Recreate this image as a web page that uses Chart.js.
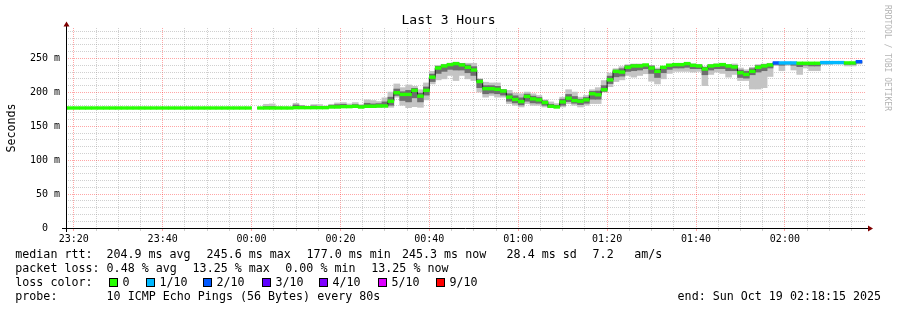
<!DOCTYPE html>
<html>
<head>
<meta charset="utf-8">
<script src="https://cdn.jsdelivr.net/npm/chart.js@4"></script>
<style>
  html, body { margin: 0; padding: 0; background: #fff; }
  canvas { display: block; }
</style>
</head>
<body>
<canvas id="chart" width="897" height="310"></canvas>
<script>
// time axis in minutes relative to 00:00, probe step is 80 s
var stepMin = 80 / 60;
var firstStep = -32;            // first step starts at 23:17:20
var viewStart = -41.75;         // 23:18:15
var viewEnd = 138.25;           // 02:18:15

// median rtt per step (ms), null = no data
var median = [
  177, 177, 177, 177, 177, 177, 177, 177,
  177, 177, 177, 177, 177, 177, 177, 177,
  177, 177, 177, 177, 177, 177, 177, 177,
  177, 177, 177, 177, 177, 177, 177, 177,
  null,
  177, 177, 177, 177, 177, 177,
  177.5, 177.5, 177.5, 177.5, 177.5, 177.5,
  178.5, 178.5, 179, 179, 179.5, 178.5, 179.5, 179.5, 180, 180,
  187, 199.5, 197, 197, 203, 194.5, 203, 222.5, 236, 239,
  241, 242.5, 240.5, 237, 233, 216, 205.5, 205.5, 204.5, 202,
  193, 189.5, 186.5, 194, 190.5, 189, 185, 179.5, 178.5, 186,
  191.5, 188, 187, 189, 198, 196.5, 204, 218.5, 231, 230,
  237, 239, 239, 240.5, 236, 231, 237, 240, 241, 241,
  242.5, 240, 239, 234.5, 239, 240,
  241, 239, 237.5, 229, 226.5, 231, 237, 239, 240.5, 243.5,
  243.5, 243.5, 243.5, 243, 243, 243, 243, 244, 244, 244,
  244, 243.5, 243.5, 245.3
];

// lost pings out of 10 per step
var loss = [
  0, 0, 0, 0, 0, 0, 0, 0, 0, 0, 0, 0, 0, 0, 0, 0,
  0, 0, 0, 0, 0, 0, 0, 0, 0, 0, 0, 0, 0, 0, 0, 0,
  null,
  0, 0, 0, 0, 0, 0, 0, 0, 0, 0, 0, 0, 0, 0, 0, 0, 0, 0, 0, 0,
  0, 0, 0, 0, 0, 0, 0, 0, 0, 0, 0, 0, 0, 0, 0, 0, 0, 0, 0, 0,
  0, 0, 0, 0, 0, 0, 0, 0, 0, 0, 0, 0, 0, 0, 0, 0, 0, 0, 0, 0,
  0, 0, 0, 0, 0, 0, 0, 0, 0, 0, 0, 0, 0, 0, 0, 0, 0, 0, 0, 0,
  0, 0, 0, 0, 0, 0, 0,
  2, 1, 1, 1, 0, 0, 0, 0, 1, 1, 1, 1, 0, 0, 2
];

// smoke: fastest / slowest ping per step (ms)
var smokeOuterLo = [
  null, null, null, null, null, null, null, null, null, null, null,
  null, null, null, null, null, null, null, null, null, null, null,
  null, null, null, null, null, null, null, null, null, null, null,
  176, 176, 176, 176, 176, 176,
  176.5, 176.5, 176.5, 176.5, 176.5, 176.5,
  177, 177, 177.5, 177.5, 177.5, 177, 177.5, 177.5, 178, 178,
  178, 193, 181, 177.5, 179, 178, 189, 212.5, 218.5, 220,
  225, 217.5, 225, 220, 217.5, 200.5, 193, 195.5, 193, 193,
  183.5, 181, 178.5, 183.5, 181, 181, 178.5, 177.5, 177.5, 178.5,
  183.5, 181, 178.5, 181, 183.5, 183.5, 200.5, 208.5, 216, 218.5,
  225, 222.5, 225, 227.5, 216.5, 212.5, 220, 228, 231, 231,
  231, 230, 231, 210, 226.5, 230,
  228, 222.5, 226.5, 217.5, 217.5, 205, 205, 207, 223.5, 239.5,
  232, 240, 233, 226.5, 236, 232, 232, 241, 241, 242,
  242, 239, 239, 242
];
var smokeOuterHi = [
  null, null, null, null, null, null, null, null, null, null, null,
  null, null, null, null, null, null, null, null, null, null, null,
  null, null, null, null, null, null, null, null, null, null, null,
  178, 182.5, 183, 179, 178.5, 178,
  184, 181, 179.5, 182, 182, 180,
  182.5, 184.5, 185, 183, 185, 182, 189, 188, 186.5, 192,
  200.5, 212.5, 207, 211, 209, 204, 214, 231, 240, 241.5,
  243, 244.5, 243, 243, 243, 220, 215, 214, 214, 204.5,
  203, 199, 198, 200.5, 198, 195.5, 189, 186, 183.5, 193,
  204, 200.5, 193, 195.5, 204, 207, 217.5, 228.5, 235, 238,
  241, 242, 242, 241.5, 240, 236, 238.5, 242, 242, 242,
  244, 242, 241, 238, 241, 242,
  243, 241, 242, 236, 233.5, 237, 241, 242, 243, 244.5,
  244.5, 244.5, 244.5, 244, 244, 244, 244, 245, 245, 245,
  245, 244.5, 244.5, 245.6
];
// smoke: inner pings (3rd / 8th) per step (ms)
var smokeInnerLo = [
  null, null, null, null, null, null, null, null, null, null, null,
  null, null, null, null, null, null, null, null, null, null, null,
  null, null, null, null, null, null, null, null, null, null, null,
  176.5, 176.5, 176.5, 176.5, 176.5, 176.5,
  177, 177, 177, 177, 177, 177,
  177.5, 177.5, 178, 178, 178, 177.5, 178, 178, 178.5, 179,
  181, 195.5, 188, 186, 192, 186, 196, 216, 228, 231,
  234, 233, 233, 229, 225, 207, 198, 199, 198, 196,
  187, 184.5, 181.5, 187, 184.5, 184, 181, 178, 178, 181,
  186.5, 184, 182, 184, 190, 190, 201.5, 213, 223, 224,
  231, 232, 233, 235, 228, 222, 229, 234, 236, 236,
  237, 235, 235, 226, 233, 235,
  235, 232, 232, 222, 221, 226, 230, 232, 236, 241.5,
  240, 242, 240, 238, 240, 239, 239, 242.5, 242.5, 243,
  243, 241.5, 241.5, 243.5
];
var smokeInnerHi = [
  null, null, null, null, null, null, null, null, null, null, null,
  null, null, null, null, null, null, null, null, null, null, null,
  null, null, null, null, null, null, null, null, null, null, null,
  177.5, 179, 179, 178, 178, 177.5,
  181.5, 180, 178.5, 180, 179.5, 179,
  181, 182, 182.5, 181, 182, 180.5, 184, 183, 183.5, 186,
  193, 205, 201, 203, 206, 199, 208, 227, 238.5, 240.5,
  242.5, 244, 242.5, 240.5, 238, 219, 210, 210, 209, 204,
  198, 195, 192, 197.5, 194.5, 192.5, 187.5, 182.5, 181, 190,
  197, 194, 190, 192.5, 201.5, 202, 210, 224, 233, 235,
  239.5, 241, 241, 241, 239, 234, 238, 241.5, 241.5, 241.5,
  243.5, 241.5, 240.5, 237, 240.5, 241.5,
  242.5, 240.5, 240, 233, 231, 235, 239.5, 241, 242, 244,
  244, 244, 244, 243.5, 243.5, 243.5, 243.5, 244.5, 244.5, 244.5,
  244.5, 244, 244, 245.5
];

// grid / tick positions
var xGridMinutes = [-40, -35, -30, -25, -20, -15, -10, -5, 0, 5, 10, 15, 20, 25, 30, 35, 40, 45,
  50, 55, 60, 65, 70, 75, 80, 85, 90, 95, 100, 105, 110, 115, 120, 125, 130, 135];
var yGridMs = [0, 10, 20, 30, 40, 50, 60, 70, 80, 90, 100, 110, 120, 130, 140, 150,
  160, 170, 180, 190, 200, 210, 220, 230, 240, 250, 260, 270, 280, 290];

var lossLabels = ['0', '1/10', '2/10', '3/10', '4/10', '5/10', '9/10'];
var lossColors = ['#26ff00', '#00b8ff', '#0059ff', '#5e00ff', '#7e00ff', '#dd00ff', '#ff0000'];

var statRows = [
  [[15.3, 'median rtt:'], [106.4, '204.9 ms avg'], [206.6, '245.6 ms max'], [306.6, '177.0 ms min'],
   [402, '245.3 ms now'], [506.6, '28.4 ms sd'], [592.6, '7.2'], [634.3, 'am/s']],
  [[15.3, 'packet loss:'], [106.6, '0.48 % avg'], [192.6, '13.25 % max'], [285.3, '0.00 % min'],
   [371.3, '13.25 % now']],
  [[15.3, 'loss color:']],
  [[15.3, 'probe:'], [106.6, '10 ICMP Echo Pings (56 Bytes) every 80s'],
   [677.6, 'end: Sun Oct 19 02:18:15 2025']]
];
var swatchX = [109, 146, 203, 262, 319, 378, 436];

var MAJOR = 'rgba(255,0,0,0.35)';
var MINOR = 'rgba(150,150,150,0.45)';
var SW = 2.0; // half height of the loss colour bar, ms

function stepMid(i) { return (firstStep + i + 0.5) * stepMin; }
function hhmm(m) {
  var t = ((m % 1440) + 1440) % 1440;
  var h = Math.floor(t / 60), mm = t % 60;
  return (h < 10 ? '0' : '') + h + ':' + (mm < 10 ? '0' : '') + mm;
}
function band(lo, hi) {
  var out = [];
  for (var i = 0; i < lo.length; i++) {
    if (lo[i] != null) out.push({ x: stepMid(i), y: [lo[i], hi[i]] });
  }
  return out;
}

var medianPts = median.map(function (v, i) { return { x: stepMid(i), y: v }; });
var lossPts = [];
for (var i = 0; i < median.length; i++) {
  if (median[i] != null) lossPts.push({ x: stepMid(i), y: [median[i] - SW, median[i] + SW], loss: loss[i] });
}

var rrdDecor = {
  id: 'rrdDecor',
  afterDraw: function (chart) {
    var c = chart.ctx, a = chart.chartArea;
    c.save();
    // axes
    c.strokeStyle = '#000';
    c.lineWidth = 1;
    c.beginPath();
    c.moveTo(a.left - 4, a.bottom + 0.5); c.lineTo(a.right + 3, a.bottom + 0.5);
    c.moveTo(a.left + 0.5, a.bottom + 4); c.lineTo(a.left + 0.5, a.top - 3);
    c.stroke();
    c.fillStyle = '#7f0000';
    c.beginPath();
    c.moveTo(a.right + 7, a.bottom + 0.5); c.lineTo(a.right + 2, a.bottom - 2.5); c.lineTo(a.right + 2, a.bottom + 3.5);
    c.closePath(); c.fill();
    c.beginPath();
    c.moveTo(a.left + 0.5, a.top - 6.5); c.lineTo(a.left - 2.5, a.top - 1.5); c.lineTo(a.left + 3.5, a.top - 1.5);
    c.closePath(); c.fill();

    // title
    c.fillStyle = '#000';
    c.font = '13px "DejaVu Sans Mono"';
    c.textAlign = 'center';
    c.textBaseline = 'alphabetic';
    c.fillText('Last 3 Hours', 448.5, 24);

    // vertical label
    c.font = '11.67px "DejaVu Sans Mono"';
    c.save();
    c.translate(15, (a.top + a.bottom) / 2);
    c.rotate(-Math.PI / 2);
    c.fillText('Seconds', 0, 0);
    c.restore();

    // watermark
    c.save();
    c.fillStyle = '#b4b4b4';
    c.font = '8px "DejaVu Sans Mono"';
    c.textAlign = 'left';
    c.translate(885, 5);
    c.rotate(Math.PI / 2);
    c.fillText('RRDTOOL / TOBI OETIKER', 0, 0);
    c.restore();

    // statistics legend
    c.font = '11.67px "DejaVu Sans Mono"';
    c.textAlign = 'left';
    c.fillStyle = '#000';
    var baselines = [258, 272, 286, 300];
    statRows.forEach(function (row, r) {
      row.forEach(function (it) { c.fillText(it[1], it[0], baselines[r]); });
    });
    for (var k = 0; k < lossLabels.length; k++) {
      var bx = swatchX[k];
      c.fillStyle = lossColors[k];
      c.fillRect(bx, 278, 9, 9);
      c.strokeStyle = '#000';
      c.strokeRect(bx + 0.5, 278.5, 8, 8);
      c.fillStyle = '#000';
      c.fillText(lossLabels[k], bx + 13.5, 286);
    }
    c.restore();
  }
};

var barCommon = { type: 'bar', grouped: false, barPercentage: 1, categoryPercentage: 1, borderWidth: 0 };

new Chart(document.getElementById('chart'), {
  type: 'line',
  data: {
    datasets: [
      Object.assign({}, barCommon, { data: band(smokeOuterLo, smokeOuterHi), backgroundColor: '#c4c4c4', order: 4 }),
      Object.assign({}, barCommon, { data: band(smokeInnerLo, smokeInnerHi), backgroundColor: '#6e6e6e', order: 3 }),
      { type: 'line', data: medianPts, borderColor: '#202020', borderWidth: 1, pointRadius: 0,
        stepped: 'middle', spanGaps: false, order: 2 },
      Object.assign({}, barCommon, {
        data: lossPts, order: 1,
        backgroundColor: function (ctx) { return lossColors[ctx.raw && ctx.raw.loss ? ctx.raw.loss : 0]; }
      })
    ]
  },
  options: {
    responsive: false,
    animation: false,
    devicePixelRatio: 1,
    layout: { padding: { left: 0, top: 28, right: 31, bottom: 0 } },
    plugins: { legend: { display: false }, tooltip: { enabled: false }, title: { display: false } },
    scales: {
      x: {
        type: 'linear', min: viewStart, max: viewEnd, offset: false,
        afterFit: function (s) { s.height = 82; },
        afterBuildTicks: function (s) { s.ticks = xGridMinutes.map(function (v) { return { value: v }; }); },
        ticks: {
          autoSkip: false, maxRotation: 0, minRotation: 0, padding: 2, color: '#000',
          font: { family: 'DejaVu Sans Mono', size: 10 },
          callback: function (v) { return v % 20 === 0 ? hhmm(v) : ''; }
        },
        grid: {
          offset: false, lineWidth: 1, drawTicks: true, tickLength: 3,
          color: function (c) { return c.tick && c.tick.value % 20 === 0 ? MAJOR : MINOR; },
          tickColor: function (c) { return c.tick && c.tick.value % 20 === 0 ? MAJOR : MINOR; }
        },
        border: { display: false, dash: [1, 1] }
      },
      y: {
        type: 'linear', min: 0, max: 295,
        afterFit: function (s) { s.width = 66; },
        afterBuildTicks: function (s) { s.ticks = yGridMs.map(function (v) { return { value: v }; }); },
        ticks: {
          autoSkip: false, padding: 6, color: '#000',
          font: { family: 'DejaVu Sans Mono', size: 10 },
          callback: function (v) { return v % 50 ? '' : (v === 0 ? '0  ' : v + ' m'); }
        },
        grid: {
          drawTicks: false, lineWidth: 1,
          color: function (c) { return c.tick && c.tick.value % 50 === 0 ? MAJOR : MINOR; }
        },
        border: { display: false, dash: [1, 1] }
      }
    }
  },
  plugins: [rrdDecor]
});
</script>
</body>
</html>
